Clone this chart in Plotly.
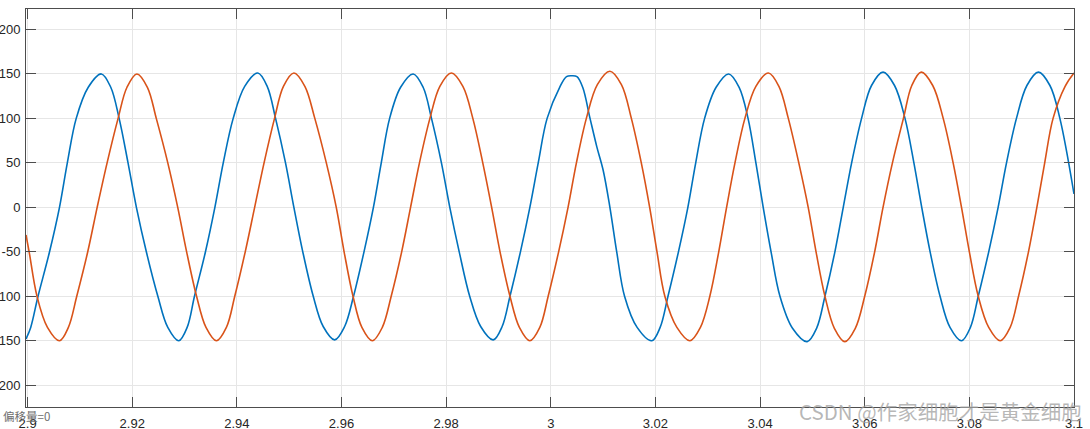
import plotly.graph_objects as go

# ---- data ----
t_blue = [2.8997, 2.9006, 2.9020, 2.9042, 2.9061, 2.9076, 2.9093, 2.9116, 2.9141,
          2.9159, 2.9175, 2.9192, 2.9208, 2.9227, 2.9249, 2.9268, 2.9289,
          2.9305, 2.9319, 2.9340, 2.9358, 2.9374, 2.9393, 2.9415, 2.9440,
          2.9458, 2.9474, 2.9493, 2.9509, 2.9526, 2.9546, 2.9565, 2.9587,
          2.9606, 2.9623, 2.9643, 2.9661, 2.9676, 2.9692, 2.9713, 2.9737,
          2.9756, 2.9772, 2.9791, 2.9807, 2.9825, 2.9845, 2.9866, 2.9890,
          2.9907, 2.9922, 2.9942, 2.9960, 2.9976, 2.9993, 3.0017, 3.0030, 3.0040,
          3.0050, 3.0061, 3.0075, 3.0088, 3.0100, 3.0113, 3.0126, 3.0141, 3.0165, 3.0193,
          3.0209, 3.0224, 3.0244, 3.0262, 3.0277, 3.0294, 3.0316, 3.0340,
          3.0360, 3.0377, 3.0392, 3.0406, 3.0421, 3.0438, 3.0462, 3.0490,
          3.0508, 3.0524, 3.0543, 3.0559, 3.0575, 3.0594, 3.0613, 3.0635,
          3.0657, 3.0677, 3.0694, 3.0709, 3.0725, 3.0744, 3.0763, 3.0785,
          3.0802, 3.0817, 3.0837, 3.0855, 3.0871, 3.0890, 3.0910, 3.0932,
          3.0954, 3.0973, 3.1000]
v_blue = [-148, -135, -100, -50, 0, 50, 100, 135, 150,
          135, 100, 50, 0, -50, -100, -135, -150,
          -135, -100, -50, 0, 50, 100, 136, 151,
          136, 100, 50, 0, -50, -100, -134, -149,
          -134, -100, -50, 0, 50, 100, 135, 150,
          135, 100, 50, 0, -50, -100, -134, -149,
          -134, -100, -50, 0, 50, 100, 135, 147, 148,
          147, 135, 100, 68, 42, 0, -50, -100, -135, -150,
          -135, -100, -50, 0, 50, 100, 135, 150,
          135, 100, 50, 0, -50, -100, -136, -151,
          -136, -100, -50, 0, 50, 100, 137, 152,
          137, 100, 50, 0, -50, -100, -135, -150,
          -135, -100, -50, 0, 50, 100, 137, 152,
          137, 100, 15]

t_orange = [2.8997, 2.9003, 2.9018, 2.9038, 2.9061, 2.9078, 2.9094, 2.9115, 2.9133,
            2.9152, 2.9173, 2.9190, 2.9209, 2.9229, 2.9246, 2.9268, 2.9287,
            2.9304, 2.9323, 2.9341, 2.9361, 2.9380, 2.9396, 2.9416, 2.9434,
            2.9452, 2.9472, 2.9489, 2.9509, 2.9530, 2.9549, 2.9571, 2.9590,
            2.9605, 2.9622, 2.9639, 2.9659, 2.9678, 2.9695, 2.9715, 2.9732,
            2.9749, 2.9769, 2.9788, 2.9810, 2.9832, 2.9851, 2.9870, 2.9887,
            2.9903, 2.9922, 2.9940, 2.9960, 2.9979, 2.9995, 3.0015, 3.0033,
            3.0049, 3.0068, 3.0089, 3.0113, 3.0135, 3.0154, 3.0173, 3.0189,
            3.0203, 3.0218, 3.0241, 3.0266, 3.0286, 3.0304, 3.0321, 3.0336,
            3.0352, 3.0371, 3.0392, 3.0416, 3.0436, 3.0454, 3.0474, 3.0492,
            3.0507, 3.0524, 3.0542, 3.0562, 3.0582, 3.0600, 3.0619, 3.0635,
            3.0653, 3.0674, 3.0690, 3.0708, 3.0730, 3.0750, 3.0769, 3.0785,
            3.0800, 3.0817, 3.0837, 3.0859, 3.0878, 3.0894, 3.0913, 3.0929,
            3.0944, 3.0960, 3.0983, 3.1000]
v_orange = [-31, -50, -100, -135, -150, -135, -100, -50, 0,
            50, 100, 135, 150, 135, 100, 50, 0,
            -50, -100, -135, -150, -135, -100, -50, 0,
            50, 100, 136, 151, 136, 100, 50, 0,
            -50, -100, -135, -150, -135, -100, -50, 0,
            50, 100, 136, 151, 136, 100, 50, 0,
            -50, -100, -135, -150, -135, -100, -50, 0,
            50, 100, 138, 153, 138, 100, 50, 0,
            -50, -100, -135, -150, -135, -100, -50, 0,
            50, 100, 136, 151, 136, 100, 50, 0,
            -50, -100, -136, -151, -136, -100, -50, 0,
            50, 100, 137, 152, 137, 100, 50, 0,
            -50, -100, -135, -150, -135, -100, -50, 0,
            50, 100, 136, 151]

x_ticks = [2.9, 2.92, 2.94, 2.96, 2.98, 3.0, 3.02, 3.04, 3.06, 3.08, 3.1]
x_labels = ["2.9", "2.92", "2.94", "2.96", "2.98", "3", "3.02", "3.04", "3.06", "3.08", "3.1"]
y_ticks = [-200, -150, -100, -50, 0, 50, 100, 150, 200]
y_labels = ["-200", "-150", "-100", "-50", "0", "50", "100", "150", "200"]

BLUE = "#0072BD"
ORANGE = "#D95319"
AX = "#4d4d4d"
GRID = "#e6e6e6"
FONT = "Liberation Sans"

fig = go.Figure()
fig.add_trace(go.Scatter(x=t_blue, y=v_blue, mode="lines",
                         line=dict(color=BLUE, width=1.6, shape="spline", smoothing=1.0),
                         showlegend=False))
fig.add_trace(go.Scatter(x=t_orange, y=v_orange, mode="lines",
                         line=dict(color=ORANGE, width=1.6, shape="spline", smoothing=1.0),
                         showlegend=False))

axis_common = dict(showline=True, linecolor=AX, linewidth=1, mirror="ticks",
                   ticks="inside", ticklen=10, tickcolor=AX, tickwidth=1,
                   showgrid=True, gridcolor=GRID, gridwidth=1, zeroline=False,
                   automargin=False,
                   tickfont=dict(family=FONT, size=13, color="#262626"))

fig.update_xaxes(range=[2.8997, 3.1], tickmode="array", tickvals=x_ticks,
                 ticktext=x_labels, ticklabelstandoff=4, **axis_common)
fig.update_yaxes(range=[-224.5, 223], tickmode="array", tickvals=y_ticks,
                 ticktext=y_labels, ticklabelstandoff=2, **axis_common)

fig.update_layout(
    width=1090, height=429,
    margin=dict(l=26, r=16, t=9, b=22),
    paper_bgcolor="white", plot_bgcolor="white",
    annotations=[
        dict(text="偏移量=0", xref="paper", yref="paper",
             x=(1 - 26) / 1048, y=(407 - 416) / 398,
             xanchor="left", yanchor="middle", showarrow=False,
             font=dict(family="Noto Sans CJK SC", size=11.5, color="#6e6e6e")),
        dict(text="CSDN @作家细胞才是黄金细胞", xref="paper", yref="paper",
             x=(797 - 26) / 1048, y=(407 - 411) / 398,
             xanchor="left", yanchor="middle", showarrow=False,
             font=dict(family="Noto Sans CJK SC", size=20.5, color="rgba(160,160,160,0.75)")),
    ],
)

fig.write_html("out.html", config={"displayModeBar": False},
               post_script="document.body.style.margin='0';")
